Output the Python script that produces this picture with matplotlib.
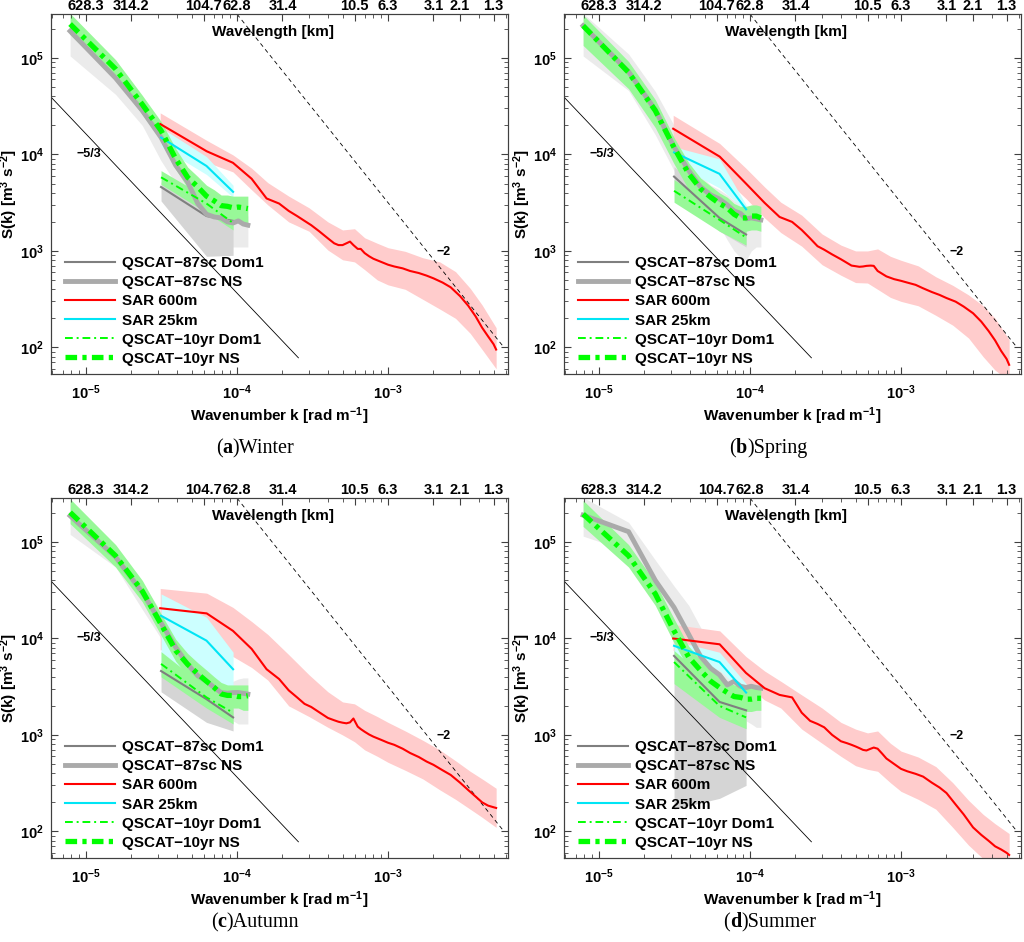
# Seasonal wavenumber spectra, 2x2 panels

import matplotlib
matplotlib.use('Agg')
import matplotlib.pyplot as plt
from matplotlib.ticker import LogLocator, NullFormatter
from matplotlib.offsetbox import TextArea, HPacker, AnchoredOffsetbox

plt.rcParams['font.family'] = ['Liberation Sans', 'DejaVu Sans']
plt.rcParams['font.weight'] = 'bold'
plt.rcParams['axes.labelweight'] = 'bold'
plt.rcParams['mathtext.fontset'] = 'custom'
plt.rcParams['mathtext.rm'] = 'Liberation Sans:bold'
plt.rcParams['mathtext.it'] = 'Liberation Sans:bold'
plt.rcParams['mathtext.bf'] = 'Liberation Sans:bold'
plt.rcParams['mathtext.default'] = 'rm'

# wavenumber grids [rad/m]
k_ns = [7.85e-6, 1.57e-5, 2.36e-5, 3.14e-5, 3.93e-5, 4.71e-5, 5.50e-5, 6.28e-5,
        7.07e-5, 7.85e-5, 8.64e-5, 9.42e-5, 1.02e-4, 1.10e-4, 1.18e-4]
k_d1 = [3.14e-5, 6.28e-5, 9.42e-5]
k_sar = [3.1e-5, 6.3e-5, 9.4e-5, 1.25e-4, 1.57e-4, 1.9e-4, 2.2e-4, 2.5e-4, 2.8e-4, 3.1e-4,
         3.5e-4, 4.0e-4, 4.4e-4, 4.7e-4, 5.0e-4, 5.3e-4, 5.6e-4, 5.9e-4, 6.3e-4, 6.6e-4,
         7.0e-4, 7.5e-4, 8.0e-4, 9.0e-4, 1.0e-3, 1.1e-3, 1.25e-3, 1.4e-3, 1.6e-3, 1.8e-3,
         2.0e-3, 2.3e-3, 2.6e-3, 3.0e-3, 3.4e-3, 3.8e-3, 4.2e-3, 4.6e-3, 5.0e-3, 5.2e-3]
k_band = [3.1e-5, 6.3e-5, 9.4e-5, 1.25e-4, 1.6e-4, 2.2e-4, 3.0e-4, 4.0e-4, 5.0e-4, 6.0e-4,
          7.0e-4, 8.5e-4, 1.0e-3, 1.3e-3, 1.7e-3, 2.2e-3, 2.8e-3, 3.5e-3, 4.2e-3, 5.2e-3]

# top axis
k_top = [1e-5, 2e-5, 6e-5, 1e-4, 2e-4, 6e-4, 1e-3, 2e-3, 3e-3, 5e-3]
top_labels = ['628.3', '314.2', '104.7', '62.8', '31.4', '10.5', '6.3', '3.1', '2.1', '1.3']

# reference slopes
k_53 = [5.9e-6, 2.55e-4]
s_53 = [3.9e4, 7.8e1]
k_2 = [1.0e-4, 5.8e-3]
s_2 = [2.85e5, 1.02e2]

# ---------------- (a) Winter
a_ns10 = [2.25e5, 7.7e4, 3.3e4, 1.77e4, 9.0e3, 5.8e3, 4.6e3, 3.7e3, 3.3e3, 2.95e3, 2.9e3, 2.8e3, 2.85e3, 2.8e3, 2.75e3]
a_ns10_hi = [2.9e5, 9.6e4, 4.1e4, 2.2e4, 1.15e4, 7.4e3, 5.9e3, 4.8e3, 4.3e3, 3.8e3, 3.8e3, 3.7e3, 3.7e3, 3.7e3, 3.7e3]
a_ns10_lo = [1.75e5, 6.1e4, 2.6e4, 1.4e4, 7.0e3, 4.5e3, 3.6e3, 2.9e3, 2.55e3, 2.3e3, 2.2e3, 2.1e3, 2.1e3, 2.0e3, 1.9e3]
a_ns87 = [1.9e5, 6.2e4, 2.85e4, 1.5e4, 7.7e3, 5.2e3, 3.1e3, 2.4e3, 2.25e3, 2.2e3, 2.0e3, 1.95e3, 2.05e3, 1.9e3, 1.85e3]
a_ns87_hi = [2.5e5, 8.0e4, 3.6e4, 1.9e4, 1.0e4, 6.8e3, 4.2e3, 3.0e3, 2.8e3, 2.7e3, 2.5e3, 2.4e3, 2.5e3, 2.4e3, 2.3e3]
a_ns87_lo = [1.05e5, 4.2e4, 2.0e4, 8.6e3, 5.0e3, 3.0e3, 2.0e3, 1.5e3, 1.3e3, 1.2e3, 1.15e3, 1.1e3, 1.1e3, 1.1e3, 1.1e3]
a_d187 = [4.6e3, 2.3e3, 2.05e3]
a_d187_hi = [5.2e3, 2.7e3, 2.4e3]
a_d187_lo = [3.3e3, 880, 900]
a_d110 = [5.8e3, 3.1e3, 1.95e3]
a_d110_hi = [6.8e3, 3.6e3, 2.3e3]
a_d110_lo = [4.9e3, 2.5e3, 1.65e3]
a_s25 = [1.5e4, 7.6e3, 4.1e3]
a_s25_hi = [1.9e4, 9.5e3, 4.8e3]
a_s25_lo = [1.2e4, 6.2e3, 3.6e3]
a_sar = [2.07e4, 1.08e4, 8.2e3, 5.6e3, 3.5e3, 3.1e3, 2.6e3, 2.3e3, 2.05e3, 1.85e3,
         1.6e3, 1.35e3, 1.2e3, 1.15e3, 1.15e3, 1.2e3, 1.25e3, 1.15e3, 1.05e3, 1.05e3,
         950, 880, 830, 770, 720, 690, 660, 620, 590, 555,
         520, 470, 420, 340, 270, 210, 160, 130, 108, 95]
a_sar_hi = [2.7e4, 1.4e4, 9.9e3, 7.2e3, 5.1e3, 3.7e3, 2.8e3, 2.0e3, 1.65e3, 1.7e3,
            1.37e3, 1.2e3, 1.08e3, 990, 850, 770, 610, 410, 275, 160]
a_sar_lo = [1.5e4, 8.3e3, 6.6e3, 4.3e3, 3.0e3, 2.0e3, 1.6e3, 1.02e3, 810, 770,
            640, 500, 445, 400, 315, 250, 200, 140, 95, 60]

# ---------------- (b) Spring
b_ns10 = [2.16e5, 7.1e4, 2.85e4, 1.18e4, 6.3e3, 4.4e3, 3.6e3, 3.1e3, 2.8e3, 2.4e3, 2.2e3, 2.2e3, 2.3e3, 2.3e3, 2.2e3]
b_ns10_hi = [2.8e5, 9.2e4, 3.7e4, 1.5e4, 8.2e3, 5.7e3, 4.7e3, 4.0e3, 3.6e3, 3.1e3, 2.9e3, 2.9e3, 3.0e3, 3.0e3, 2.9e3]
b_ns10_lo = [1.35e5, 4.8e4, 1.9e4, 8.0e3, 4.3e3, 3.0e3, 2.5e3, 2.2e3, 2.0e3, 1.75e3, 1.6e3, 1.6e3, 1.65e3, 1.65e3, 1.6e3]
b_ns87 = [2.16e5, 7.2e4, 2.9e4, 1.2e4, 6.8e3, 4.6e3, 3.8e3, 3.45e3, 3.0e3, 2.6e3, 2.45e3, 2.15e3, 2.2e3, 2.15e3, 2.1e3]
b_ns87_hi = [2.9e5, 1.1e5, 4.5e4, 2.0e4, 9.0e3, 6.0e3, 4.8e3, 4.3e3, 3.8e3, 3.3e3, 3.1e3, 2.9e3, 2.9e3, 2.9e3, 2.8e3]
b_ns87_lo = [1.05e5, 4.6e4, 1.6e4, 6.8e3, 4.0e3, 2.8e3, 2.2e3, 1.8e3, 1.3e3, 1.0e3, 850, 800, 1.0e3, 1.1e3, 1.1e3]
b_d187 = [5.9e3, 2.2e3, 1.48e3]
b_d187_hi = [7.5e3, 2.8e3, 1.8e3]
b_d187_lo = [4.4e3, 1.6e3, 1.1e3]
b_d110 = [4.2e3, 2.1e3, 1.38e3]
b_d110_hi = [5.5e3, 2.7e3, 1.7e3]
b_d110_lo = [3.2e3, 1.6e3, 1.15e3]
b_s25 = [1.05e4, 6.3e3, 2.7e3]
b_s25_hi = [1.2e4, 9.0e3, 3.0e3]
b_s25_lo = [8.0e3, 4.5e3, 2.6e3]
b_sar = [1.85e4, 9.5e3, 5.0e3, 3.15e3, 2.25e3, 2.0e3, 1.65e3, 1.35e3, 1.12e3, 1.03e3,
         920, 820, 750, 705, 695, 685, 690, 700, 705, 700,
         620, 580, 545, 510, 490, 470, 445, 410, 375, 350,
         325, 298, 265, 226, 185, 148, 118, 92, 76, 66]
b_sar_hi = [2.55e4, 1.3e4, 7.2e3, 4.6e3, 3.2e3, 2.35e3, 1.5e3, 1.15e3, 1.0e3, 1.0e3,
            1.05e3, 880, 800, 700, 540, 440, 350, 270, 200, 120]
b_sar_lo = [1.3e4, 6.3e3, 3.5e3, 2.2e3, 1.55e3, 1.12e3, 720, 560, 470, 465,
            400, 330, 300, 270, 215, 170, 125, 80, 58, 45]

# ---------------- (c) Autumn
c_ns10 = [2.03e5, 7.2e4, 3.1e4, 1.41e4, 7.5e3, 5.4e3, 4.3e3, 3.6e3, 3.1e3, 2.66e3, 2.57e3, 2.57e3, 2.5e3, 2.5e3, 2.55e3]
c_ns10_hi = [2.8e5, 9.4e4, 4.0e4, 1.8e4, 9.8e3, 7.0e3, 5.6e3, 4.7e3, 4.0e3, 3.5e3, 3.3e3, 3.3e3, 3.3e3, 3.3e3, 3.3e3]
c_ns10_lo = [1.55e5, 5.5e4, 2.4e4, 1.08e4, 5.8e3, 4.1e3, 3.3e3, 2.8e3, 2.4e3, 2.05e3, 2.0e3, 1.9e3, 1.9e3, 1.8e3, 1.8e3]
c_ns87 = [1.87e5, 7.0e4, 3.0e4, 1.45e4, 8.1e3, 5.4e3, 4.1e3, 3.6e3, 3.1e3, 2.75e3, 2.7e3, 2.75e3, 2.75e3, 2.7e3, 2.65e3]
c_ns87_hi = [2.5e5, 9.0e4, 3.8e4, 1.9e4, 1.05e4, 7.0e3, 5.3e3, 4.6e3, 4.0e3, 3.6e3, 3.6e3, 3.6e3, 3.8e3, 3.9e3, 3.9e3]
c_ns87_lo = [1.2e5, 5.5e4, 2.0e4, 1.0e4, 5.5e3, 4.0e3, 3.0e3, 2.5e3, 2.0e3, 1.7e3, 1.5e3, 1.4e3, 1.3e3, 1.3e3, 1.3e3]
c_d187 = [4.6e3, 2.35e3, 1.52e3]
c_d187_hi = [5.5e3, 2.8e3, 1.9e3]
c_d187_lo = [2.8e3, 1.35e3, 1.1e3]
c_d110 = [5.45e3, 2.45e3, 1.7e3]
c_d110_hi = [7.3e3, 3.1e3, 2.3e3]
c_d110_lo = [4.0e3, 1.9e3, 1.3e3]
c_s25 = [1.72e4, 9.5e3, 4.8e3]
c_s25_hi = [2.9e4, 1.66e4, 7.2e3]
c_s25_lo = [5.2e3, 3.6e3, 3.1e3]
c_sar = [2.06e4, 1.82e4, 1.2e4, 7.8e3, 4.8e3, 3.8e3, 2.9e3, 2.45e3, 2.1e3, 1.95e3,
         1.72e3, 1.5e3, 1.42e3, 1.37e3, 1.34e3, 1.32e3, 1.35e3, 1.48e3, 1.22e3, 1.15e3,
         1.08e3, 1.01e3, 960, 890, 830, 790, 720, 650, 590, 530,
         490, 430, 385, 320, 268, 230, 200, 185, 178, 175]
c_sar_hi = [3.3e4, 2.95e4, 2.1e4, 1.5e4, 1.1e4, 6.8e3, 4.2e3, 2.8e3, 2.2e3, 2.1e3,
            1.8e3, 1.55e3, 1.35e3, 1.1e3, 880, 700, 540, 420, 350, 280]
c_sar_lo = [7.6e3, 1.0e4, 6.5e3, 5.0e3, 3.7e3, 2.0e3, 1.55e3, 1.2e3, 1.0e3, 850,
            700, 600, 520, 430, 350, 270, 215, 170, 140, 110]

# ---------------- (d) Summer
d_ns10 = [1.95e5, 7.2e4, 2.9e4, 1.2e4, 6.4e3, 4.65e3, 3.6e3, 3.1e3, 2.75e3, 2.5e3, 2.45e3, 2.35e3, 2.35e3, 2.4e3, 2.4e3]
d_ns10_hi = [2.7e5, 9.4e4, 3.8e4, 1.6e4, 8.3e3, 6.0e3, 4.7e3, 4.0e3, 3.6e3, 3.3e3, 3.2e3, 3.1e3, 3.1e3, 3.2e3, 3.2e3]
d_ns10_lo = [1.45e5, 5.5e4, 2.2e4, 9.0e3, 4.8e3, 3.5e3, 2.7e3, 2.3e3, 2.05e3, 1.85e3, 1.8e3, 1.75e3, 1.75e3, 1.8e3, 1.8e3]
d_ns87 = [1.9e5, 1.28e5, 4.0e4, 2.1e4, 1.1e4, 6.5e3, 4.9e3, 4.2e3, 3.3e3, 3.6e3, 3.2e3, 3.1e3, 3.2e3, 3.1e3, 3.05e3]
d_ns87_hi = [2.9e5, 1.6e5, 6.5e4, 3.5e4, 2.2e4, 1.3e4, 8.0e3, 6.0e3, 4.5e3, 4.3e3, 4.0e3, 3.8e3, 3.8e3, 3.7e3, 3.6e3]
d_ns87_lo = [1.15e5, 8.0e4, 2.7e4, 1.3e4, 8.0e3, 4.5e3, 3.3e3, 2.7e3, 2.2e3, 2.0e3, 1.8e3, 1.4e3, 1.3e3, 1.2e3, 1.2e3]
d_d187 = [6.6e3, 2.2e3, 1.8e3]
d_d187_hi = [8.3e3, 2.6e3, 2.2e3]
d_d187_lo = [170, 220, 300]
d_d110 = [5.7e3, 2.0e3, 1.52e3]
d_d110_hi = [7.5e3, 2.9e3, 2.0e3]
d_d110_lo = [3.4e3, 1.52e3, 1.16e3]
d_s25 = [8.4e3, 5.7e3, 2.75e3]
d_s25_hi = [9.5e3, 7.2e3, 3.4e3]
d_s25_lo = [6.5e3, 4.7e3, 2.6e3]
d_sar = [1.0e4, 8.7e3, 4.4e3, 3.05e3, 2.6e3, 2.45e3, 1.7e3, 1.4e3, 1.3e3, 1.2e3,
         1.0e3, 860, 820, 790, 760, 730, 700, 690, 720, 740,
         720, 640, 570, 500, 445, 420, 395, 370, 320, 285,
         250, 190, 150, 110, 92, 80, 70, 65, 60, 57]
d_sar_hi = [1.4e4, 1.2e4, 6.5e3, 4.6e3, 3.6e3, 2.6e3, 1.9e3, 1.35e3, 1.15e3, 1.05e3,
            1.1e3, 820, 680, 590, 470, 320, 210, 150, 120, 95]
d_sar_lo = [7.5e3, 6.5e3, 3.3e3, 2.3e3, 1.9e3, 1.15e3, 820, 600, 480, 440,
            420, 320, 260, 215, 170, 110, 72, 52, 45, 40]

panels = [
    ('a', 'Winter', a_ns10, a_ns10_hi, a_ns10_lo, a_ns87, a_ns87_hi, a_ns87_lo, a_d187, a_d187_hi, a_d187_lo,
     a_d110, a_d110_hi, a_d110_lo, a_s25, a_s25_hi, a_s25_lo, a_sar, a_sar_hi, a_sar_lo),
    ('b', 'Spring', b_ns10, b_ns10_hi, b_ns10_lo, b_ns87, b_ns87_hi, b_ns87_lo, b_d187, b_d187_hi, b_d187_lo,
     b_d110, b_d110_hi, b_d110_lo, b_s25, b_s25_hi, b_s25_lo, b_sar, b_sar_hi, b_sar_lo),
    ('c', 'Autumn', c_ns10, c_ns10_hi, c_ns10_lo, c_ns87, c_ns87_hi, c_ns87_lo, c_d187, c_d187_hi, c_d187_lo,
     c_d110, c_d110_hi, c_d110_lo, c_s25, c_s25_hi, c_s25_lo, c_sar, c_sar_hi, c_sar_lo),
    ('d', 'Summer', d_ns10, d_ns10_hi, d_ns10_lo, d_ns87, d_ns87_hi, d_ns87_lo, d_d187, d_d187_hi, d_d187_lo,
     d_d110, d_d110_hi, d_d110_lo, d_s25, d_s25_hi, d_s25_lo, d_sar, d_sar_hi, d_sar_lo),
]

W, H = 1024, 942
fig = plt.figure(figsize=(W / 100, H / 100), dpi=100)

# axes boxes in pixels: left, top
boxes = [(51, 14), (564, 14), (51, 498), (564, 498)]
aw, ah = 457, 360
captions_xy = [(255, 448), (768, 448), (255, 922), (770, 922)]

XL = (5.865e-6, 6.23e-3)
YL = (53, 2.86e5)
spine_c = '#404040'

for (tag, season, ns10, ns10_hi, ns10_lo, ns87, ns87_hi, ns87_lo, d187, d187_hi, d187_lo,
     d110, d110_hi, d110_lo, s25, s25_hi, s25_lo, sar, sar_hi, sar_lo), (L, T), (cx, cy) in zip(panels, boxes, captions_xy):
    ax = fig.add_axes([L / W, 1 - (T + ah) / H, aw / W, ah / H])
    ax.set_xscale('log')
    ax.set_yscale('log')

    # shaded spreads
    ax.fill_between(k_ns, ns87_lo, ns87_hi, color='#ebebeb', lw=0)
    ax.fill_between(k_d1, d187_lo, d187_hi, color='#d5d5d5', lw=0)
    ax.fill_between(k_band, sar_lo, sar_hi, color='#ffcccc', lw=0)
    ax.fill_between(k_d1, s25_lo, s25_hi, color='#ccffff', lw=0)
    ax.fill_between(k_d1, d110_lo, d110_hi, color='#98f898', lw=0)
    ax.fill_between(k_ns, ns10_lo, ns10_hi, color='#98f898', lw=0)

    ax.plot(k_53, s_53, color='k', lw=0.6)
    ax.plot(k_2, s_2, color='k', lw=0.6, dashes=(5, 4))

    ax.plot(k_d1, d187, color='#7f7f7f', lw=1.5, label='QSCAT\u221287sc Dom1')
    ax.plot(k_ns, ns87, color='#aaaaaa', lw=3.5, label='QSCAT\u221287sc NS')
    ax.plot(k_sar, sar, color='#ff0000', lw=1.5, label='SAR 600m')
    ax.plot(k_d1, s25, color='#00e5f5', lw=1.5, label='SAR 25km')
    ax.plot(k_d1, d110, color='#00ff00', lw=1.4, ls=(0, (4, 2, 1, 2)), label='QSCAT\u221210yr Dom1')
    ax.plot(k_ns, ns10, color='#00ff00', lw=3.8, ls=(0, (2.2, 1.0, 0.8, 1.0)), label='QSCAT\u221210yr NS')

    ax.text(1.05e-5, 1.0e4, '\u22125/3', fontsize=9, ha='center', va='center')
    ax.text(2.35e-3, 9.7e2, '\u22122', fontsize=9, ha='center', va='center')
    ax.text(0.485, 0.95, 'Wavelength [km]', transform=ax.transAxes, ha='center', va='center', fontsize=11)

    ax.set_xlim(*XL)
    ax.set_ylim(*YL)
    ax.set_xlabel(r'Wavenumber k [rad m$^{-1}$]', fontsize=11, fontweight='bold', labelpad=2)
    ax.set_ylabel(r'S(k) [m$^3$ s$^{-2}$]', fontsize=11, fontweight='bold')
    ax.yaxis.set_label_coords(-0.068, 0.5)
    ax.yaxis.set_major_locator(LogLocator(base=10, numticks=10))
    ax.yaxis.set_minor_locator(LogLocator(base=10, subs=range(2, 10), numticks=20))
    ax.yaxis.set_minor_formatter(NullFormatter())
    ax.xaxis.set_minor_formatter(NullFormatter())
    ax.tick_params(which='both', direction='in', top=False, right=True, colors=spine_c,
                   labelcolor='k', labelsize=10.5)
    ax.tick_params(axis='x', pad=7)
    ax.tick_params(axis='y', pad=5)
    ax.tick_params(which='major', length=5)
    ax.tick_params(which='minor', length=3)
    for s in ax.spines.values():
        s.set_color(spine_c)
        s.set_linewidth(0.8)

    ax.legend(loc='lower left', bbox_to_anchor=(0.012, 0.0), frameon=False, fontsize=11,
              handlelength=3.3, handletextpad=0.45, labelspacing=0.33, borderaxespad=0.15)

    top = ax.twiny()
    top.set_xscale('log')
    top.set_xlim(*XL)
    top.set_xticks(k_top)
    top.set_xticklabels(top_labels)
    top.xaxis.set_minor_formatter(NullFormatter())
    top.tick_params(which='both', direction='in', colors=spine_c, labelcolor='k', labelsize=10.5, pad=1)
    top.tick_params(which='major', length=5)
    top.tick_params(which='minor', length=3)
    for s in top.spines.values():
        s.set_color(spine_c)
        s.set_linewidth(0.8)

    cap = HPacker(children=[TextArea('(', textprops=dict(family='Liberation Serif', size=14.5, weight='normal')),
                            TextArea(tag, textprops=dict(family='Liberation Serif', size=14.5, weight='bold')),
                            TextArea(')' + season, textprops=dict(family='Liberation Serif', size=14.5, weight='normal'))],
                  align='baseline', pad=0, sep=0)
    box = AnchoredOffsetbox(loc='center', child=cap, pad=0, borderpad=0, frameon=False,
                            bbox_to_anchor=(cx / W, 1 - cy / H), bbox_transform=fig.transFigure)
    fig.add_artist(box)

fig.savefig('out.png', dpi=100)
